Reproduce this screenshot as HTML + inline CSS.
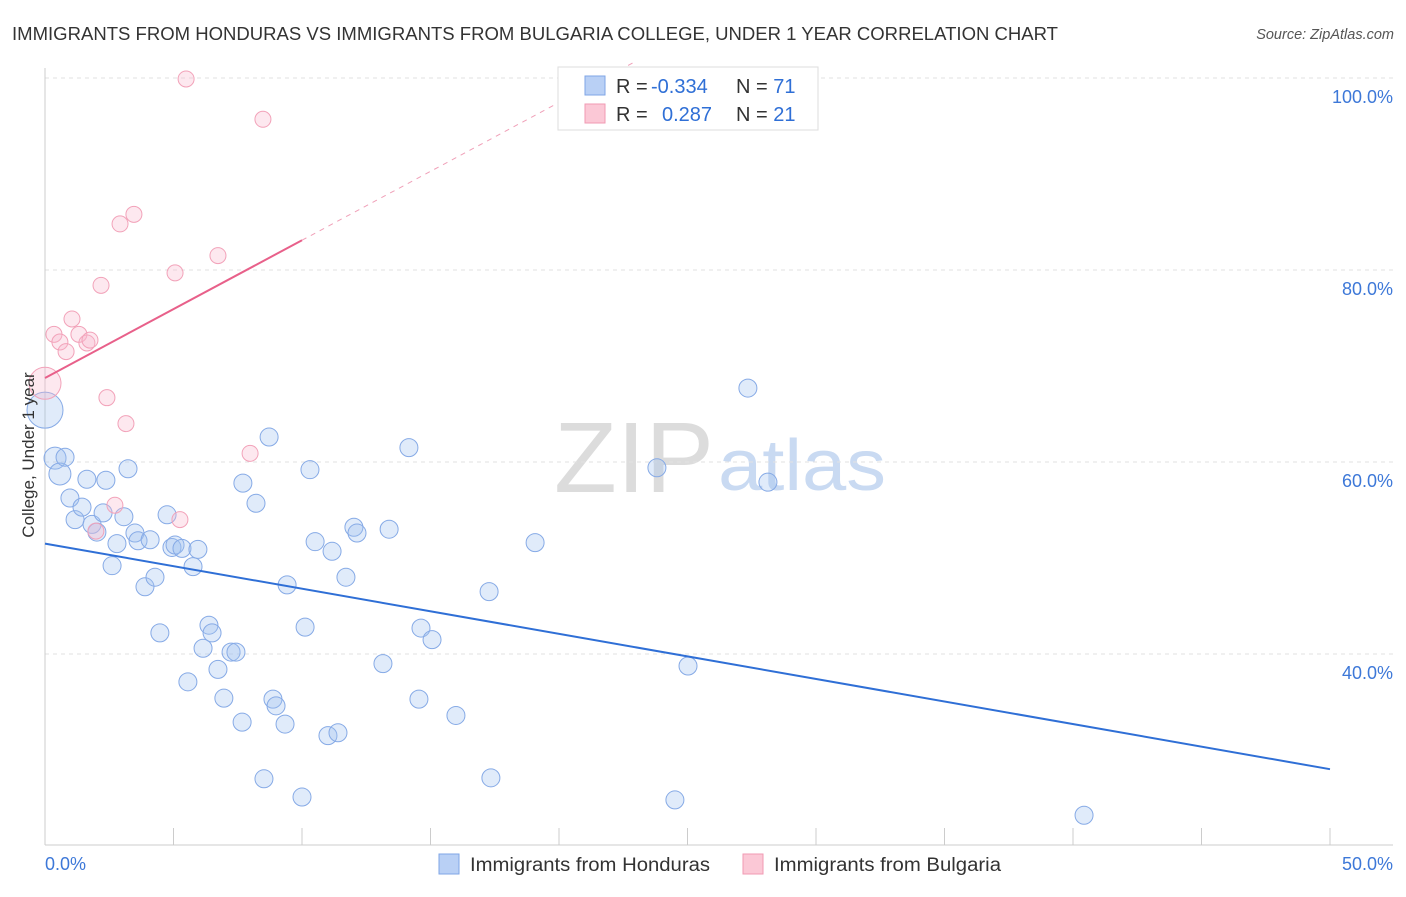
<!DOCTYPE html>
<html><head><meta charset="utf-8"><style>
body{margin:0;background:#fff;font-family:"Liberation Sans",sans-serif;}
svg text{font-family:"Liberation Sans",sans-serif;}
</style></head><body>
<svg width="1406" height="892" viewBox="0 0 1406 892" xmlns="http://www.w3.org/2000/svg">
<text x="12" y="40" font-size="18" fill="#333" textLength="1046" lengthAdjust="spacingAndGlyphs">IMMIGRANTS FROM HONDURAS VS IMMIGRANTS FROM BULGARIA COLLEGE, UNDER 1 YEAR CORRELATION CHART</text>
<text x="1394" y="39" font-size="14.5" fill="#555" font-style="italic" text-anchor="end">Source: ZipAtlas.com</text>
<g>
<text x="554" y="492" font-size="100" fill="#dcdcdc" font-family="Liberation Serif,serif" textLength="160" lengthAdjust="spacingAndGlyphs">ZIP</text>
<text x="718" y="490" font-size="72" fill="#c9daf2" textLength="168" lengthAdjust="spacingAndGlyphs">atlas</text>
</g>
<g id="grid"></g>
<g id="axes"></g>
<g id="marks"></g>
<text x="34" y="455" font-size="17" fill="#333" text-anchor="middle" transform="rotate(-90 34 455)">College, Under 1 year</text>
<g>
<rect x="558" y="67" width="260" height="63" fill="#fff" stroke="#ddd"/>
<rect x="585" y="76" width="20" height="19" fill="#b9d0f5" stroke="#7fa6e6"/>
<rect x="585" y="104" width="20" height="19" fill="#fbc8d6" stroke="#f09ab3"/>
<text x="616" y="93" font-size="20" fill="#333">R = <tspan x="651" fill="#2f6fd6">-0.334</tspan><tspan x="736">N = </tspan><tspan fill="#2f6fd6">71</tspan></text>
<text x="616" y="121" font-size="20" fill="#333">R = <tspan x="662" fill="#2f6fd6">0.287</tspan><tspan x="736">N = </tspan><tspan fill="#2f6fd6">21</tspan></text>
</g>
<g>
<rect x="439" y="854" width="20" height="20" fill="#b9d0f5" stroke="#7fa6e6"/>
<text x="470" y="871" font-size="19" fill="#333" textLength="240" lengthAdjust="spacingAndGlyphs">Immigrants from Honduras</text>
<rect x="743" y="854" width="20" height="20" fill="#fbc8d6" stroke="#f09ab3"/>
<text x="774" y="871" font-size="19" fill="#333" textLength="227" lengthAdjust="spacingAndGlyphs">Immigrants from Bulgaria</text>
</g>
</svg>
<script>
const blueX=[0,0.39,0.58,0.78,0.97,1.17,1.44,1.63,1.83,2.02,2.26,2.37,2.61,2.8,3.07,3.23,3.5,3.62,3.89,4.09,4.28,4.47,4.75,4.94,5.06,5.33,5.56,5.76,5.95,6.15,6.38,6.5,6.73,6.96,7.24,7.43,7.67,7.7,8.21,8.52,8.72,8.87,8.99,9.34,9.42,10.0,10.12,10.31,10.51,11.01,11.17,11.4,11.71,12.02,12.14,13.15,13.39,14.16,14.55,14.63,15.06,15.99,17.28,17.35,19.07,23.81,24.51,25.02,27.35,28.13,40.43];
const blueY=[65.4,60.4,58.75,60.5,56.25,54.0,55.3,58.2,53.5,52.7,54.7,58.1,49.2,51.5,54.3,59.3,52.6,51.8,47.0,51.9,48.0,42.2,54.5,51.1,51.35,51.0,37.1,49.1,50.9,40.6,43.0,42.2,38.4,35.4,40.2,40.2,32.9,57.8,55.7,27.0,62.6,35.3,34.6,32.7,47.2,25.1,42.8,59.2,51.7,31.5,50.7,31.8,48.0,53.2,52.6,39.0,53.0,61.5,35.3,42.7,41.5,33.6,46.5,27.1,51.6,59.4,24.8,38.75,67.7,57.9,23.2];
const pinkX=[0,0.35,0.58,0.82,1.05,1.32,1.63,1.75,2.18,2.41,2.72,2.92,3.15,3.46,5.06,5.25,5.49,6.73,7.98,8.48,1.98];
const pinkY=[68.2,73.3,72.5,71.5,74.9,73.3,72.4,72.7,78.4,66.7,55.5,84.8,64.0,85.8,79.7,54.0,99.9,81.5,60.9,95.7,52.8];
const blueTrend=[51.5,28.0];
const pinkTrend=[68.75,83.1];
const yTicks=[100,80,60,40];
const yTickLabels=["100.0%","80.0%","60.0%","40.0%"];
const xTicks=[0,5,10,15,20,25,30,35,40,45,50];

const NS="http://www.w3.org/2000/svg";
const xs=v=>45+v*25.7;
const ys=v=>654-(v-40)*9.6;
function mk(parent,tag,attrs){const e=document.createElementNS(NS,tag);for(const k in attrs)e.setAttribute(k,attrs[k]);document.getElementById(parent).appendChild(e);return e;}

yTicks.forEach((t,i)=>{
  const g=mk('grid','line',{x1:45,x2:1393,y1:ys(t),y2:ys(t),stroke:'#e2e2e2','stroke-dasharray':'4 4'});
  
  
  const l=mk('grid','text',{x:1393,y:ys(t)+25,'text-anchor':'end','font-size':18,fill:'#3d78d8'});
  l.textContent=yTickLabels[i];
  
  
});
const ya=mk('axes','line',{x1:45,x2:45,y1:68,y2:845,stroke:'#ccc'});


const xa=mk('axes','line',{x1:45,x2:1393,y1:845,y2:845,stroke:'#ccc'});


xTicks.forEach(t=>{
  const k=mk('axes','line',{x1:xs(t),x2:xs(t),y1:828,y2:845,stroke:'#ccc'});
  
  
});
const x0=mk('axes','text',{x:45,y:870,'font-size':18,fill:'#3d78d8'});x0.textContent='0.0%';


const x1=mk('axes','text',{x:1393,y:870,'font-size':18,fill:'#3d78d8','text-anchor':'end'});x1.textContent='50.0%';



const slope=(pinkTrend[1]-pinkTrend[0])/10;
const pd=mk('marks','line',{x1:xs(10),y1:ys(pinkTrend[1]),x2:xs(23),y2:ys(pinkTrend[0]+slope*23),stroke:'#f0a0b8','stroke-width':1,'stroke-dasharray':'5 5'});



blueX.forEach((x,i)=>{
  const c=mk('marks','circle',{cx:xs(x),cy:ys(blueY[i]),r:i==0?18:(i<3?11:9),fill:'rgba(160,192,240,0.32)',stroke:'#86aae6','stroke-width':1});
  
  
});
pinkX.forEach((x,i)=>{
  const c=mk('marks','circle',{cx:xs(x),cy:ys(pinkY[i]),r:i==0?16:8,fill:'rgba(250,185,205,0.32)',stroke:'#f2a2b9','stroke-width':1});
  
  
});
const bl=mk('marks','line',{x1:xs(0),y1:ys(blueTrend[0]),x2:xs(50),y2:ys(blueTrend[1]),stroke:'#2f6fd6','stroke-width':2});


const pl=mk('marks','line',{x1:xs(0),y1:ys(pinkTrend[0]),x2:xs(10),y2:ys(pinkTrend[1]),stroke:'#e8608a','stroke-width':2});


</script>
</body></html>
